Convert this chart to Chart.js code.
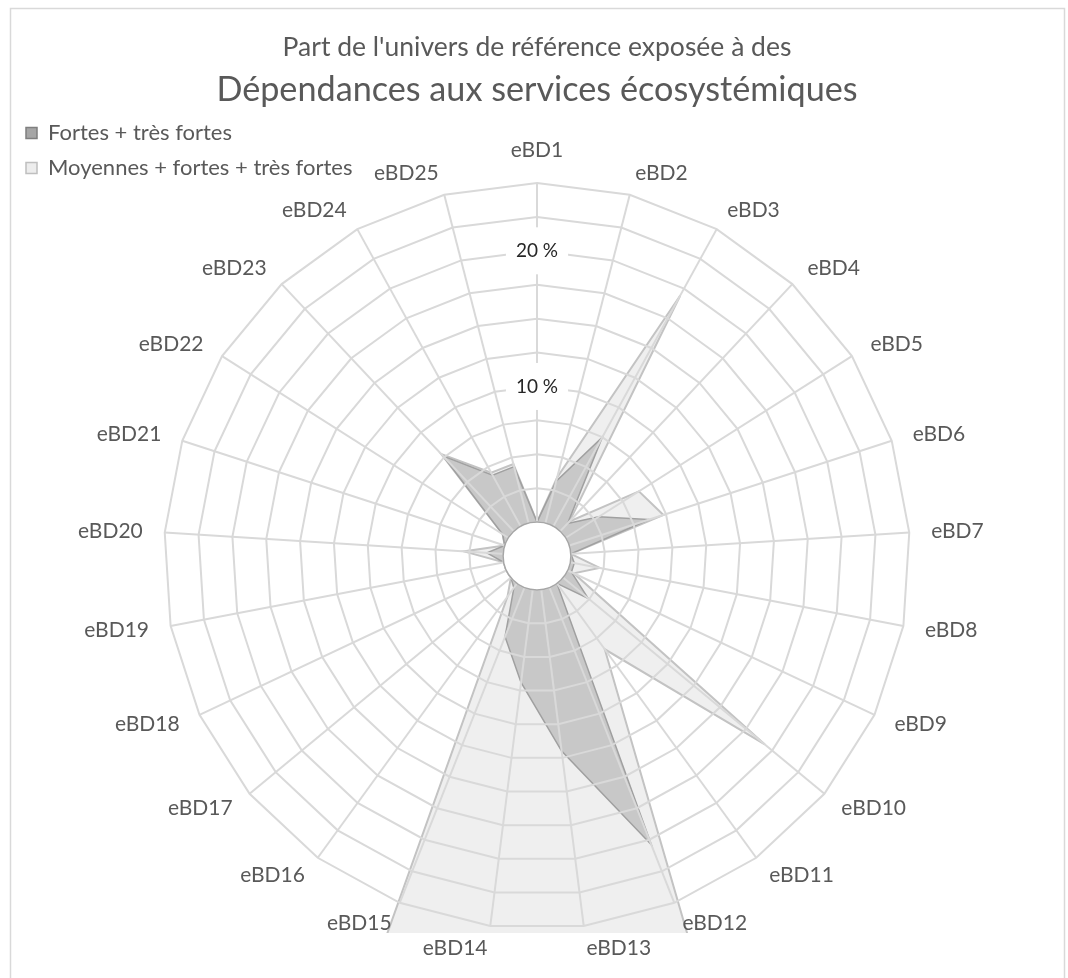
<!DOCTYPE html>
<html lang="fr">
<head>
<meta charset="utf-8">
<title>Dépendances aux services écosystémiques</title>
<script src="https://cdn.jsdelivr.net/npm/chart.js@4.4.1/dist/chart.umd.min.js"></script>
<style>
  html, body { margin: 0; padding: 0; background: #fff; overflow: hidden; }
</style>
</head>
<body>
<canvas id="radarDependances" width="1068" height="1000"></canvas>
<script>
const categories = ['eBD1', 'eBD2', 'eBD3', 'eBD4', 'eBD5', 'eBD6', 'eBD7', 'eBD8', 'eBD9', 'eBD10',
  'eBD11', 'eBD12', 'eBD13', 'eBD14', 'eBD15', 'eBD16', 'eBD17', 'eBD18', 'eBD19', 'eBD20',
  'eBD21', 'eBD22', 'eBD23', 'eBD24', 'eBD25'];

// part de l'univers (en %)
const fortes = [0, 3.2, 7.5, 0.8, 2.9, 6.2, 0, 0.3, 0.3, 2.4, 0, 20.4, 12.0, 6.9, 3.9, 0.4, 0, 0, 0, 1.2, 0, 0.5, 7.6, 4.3, 4.3];
const moyennes = [0, 3.5, 19.4, 1.0, 6.4, 7.3, 0, 2.2, 0.5, 19.3, 6.0, 28, 28, 28, 28, 1.2, 0, 0, 0, 2.9, 0, 0.5, 7.8, 4.5, 4.5];

const tickLabels = [10, 20];
const titre = "Part de l'univers de référence exposée à des";
const sousTitre = 'Dépendances aux services écosystémiques';

const police = 'Lato, "Open Sans", sans-serif';

// cadre du graphique + fond blanc
const cadre = {
  id: 'cadre',
  beforeDraw(chart) {
    const ctx = chart.ctx;
    ctx.save();
    ctx.fillStyle = '#fff';
    ctx.fillRect(0, 0, chart.width, chart.height);
    ctx.strokeStyle = '#d9d9d9';
    ctx.lineWidth = 1.5;
    ctx.strokeRect(10.5, 8.5, chart.width - 14, chart.height + 20);
    ctx.restore();
  }
};

// la légende se place en haut à gauche, sous le titre
const legendeEnHaut = {
  id: 'legendeEnHaut',
  afterLayout(chart) {
    const lg = chart.legend;
    const dy = (chart.chartArea.top - 50.5) - lg.top;
    lg.top += dy;
    lg.bottom += dy;
  }
};

// zone de traçage coupée en bas, comme dans Excel
const coupeBas = {
  id: 'coupeBas',
  beforeDatasetsDraw(chart) {
    const ctx = chart.ctx;
    ctx.save();
    ctx.beginPath();
    ctx.rect(0, 0, chart.width, chart.chartArea.bottom - 19.5);
    ctx.clip();
  },
  afterDatasetsDraw(chart) {
    chart.ctx.restore();
  }
};

// étiquettes des catégories posées à la manière d'Excel
const etiquettes = {
  id: 'etiquettes',
  afterDraw(chart) {
    const r = chart.scales.r;
    const ctx = chart.ctx;
    ctx.save();
    ctx.font = '21px ' + police;
    ctx.fillStyle = '#595959';
    ctx.textBaseline = 'middle';
    chart.data.labels.forEach((lab, i) => {
      const a = r.getIndexAngle(i);
      const p = r.getPointPosition(i, r.drawingArea + 22);
      const s = Math.sin(a);
      let y = p.y;
      if (Math.abs(s) < 0.01) {
        ctx.textAlign = 'center';
        y += Math.cos(a) > 0 ? -10.5 : 10.5;
      } else {
        ctx.textAlign = s > 0 ? 'left' : 'right';
      }
      ctx.fillText(lab, p.x, y);
    });
    ctx.restore();
  }
};

// trou blanc au centre (valeur 0)
const trouCentral = {
  id: 'trouCentral',
  afterDraw(chart) {
    const r = chart.scales.r;
    const ctx = chart.ctx;
    ctx.save();
    ctx.beginPath();
    ctx.arc(r.xCenter, r.yCenter, r.getDistanceFromCenterForValue(0), 0, Math.PI * 2);
    ctx.fillStyle = '#fff';
    ctx.fill();
    ctx.lineWidth = 1.5;
    ctx.strokeStyle = '#a6a6a6';
    ctx.stroke();
    ctx.restore();
  }
};

const couleursLegende = [['#a6a6a6', '#7f7f7f'], ['#ededed', '#bfbfbf']];

const GRAPHIQUE = document.getElementById('radarDependances');

let graphiqueRadar = new Chart(GRAPHIQUE, {
  type: 'radar',
  data: {
    labels: categories,
    datasets: [{
      label: 'Fortes + très fortes',
      data: fortes,
      backgroundColor: 'rgb(200, 200, 200)',
      borderColor: 'rgb(160, 160, 160)',
      borderWidth: 1.5,
      pointRadius: 0,
      fill: true
    }, {
      label: 'Moyennes + fortes + très fortes',
      data: moyennes,
      backgroundColor: 'rgb(239, 239, 239)',
      borderColor: 'rgb(195, 195, 195)',
      borderWidth: 2,
      pointRadius: 0,
      fill: true
    }]
  },
  options: {
    responsive: false,
    animation: false,
    layout: {
      padding: {top: 18, left: 13, right: 7, bottom: 47.5}
    },
    elements: {
      line: {tension: 0}
    },
    plugins: {
      title: {
        display: true,
        text: titre,
        color: '#595959',
        font: {family: police, size: 26.5, weight: 'normal', lineHeight: 1.2},
        padding: {top: 14, bottom: 0}
      },
      subtitle: {
        display: true,
        text: sousTitre,
        color: '#595959',
        font: {family: police, size: 34.2, weight: 'normal', lineHeight: 1.0},
        padding: {top: 9, bottom: 52.5}
      },
      legend: {
        position: 'chartArea',
        align: 'start',
        labels: {
          boxWidth: 11,
          boxHeight: 11,
          padding: 13,
          color: '#595959',
          font: {family: police, size: 22},
          generateLabels(chart) {
            const items = Chart.defaults.plugins.legend.labels.generateLabels(chart);
            items.forEach((it, i) => {
              it.fillStyle = couleursLegende[i][0];
              it.strokeStyle = couleursLegende[i][1];
              it.lineWidth = 1.5;
            });
            return items;
          }
        }
      },
      tooltip: {enabled: false}
    },
    scales: {
      r: {
        min: -2.5,
        max: 25,
        grid: {z: 1, color: '#d9d9d9', lineWidth: 2},
        angleLines: {color: '#d9d9d9', lineWidth: 2},
        pointLabels: {display: false},
        ticks: {
          z: 1,
          stepSize: 2.5,
          color: '#262626',
          font: {family: police, size: 19},
          backdropColor: '#fff',
          backdropPadding: {left: 10, right: 10, top: 14, bottom: 14},
          showLabelBackdrop: (ctx) => tickLabels.includes(ctx.tick.value),
          callback: (v) => tickLabels.includes(v) ? v + ' %' : ''
        }
      }
    }
  },
  plugins: [cadre, legendeEnHaut, coupeBas, etiquettes, trouCentral]
});
</script>
</body>
</html>
